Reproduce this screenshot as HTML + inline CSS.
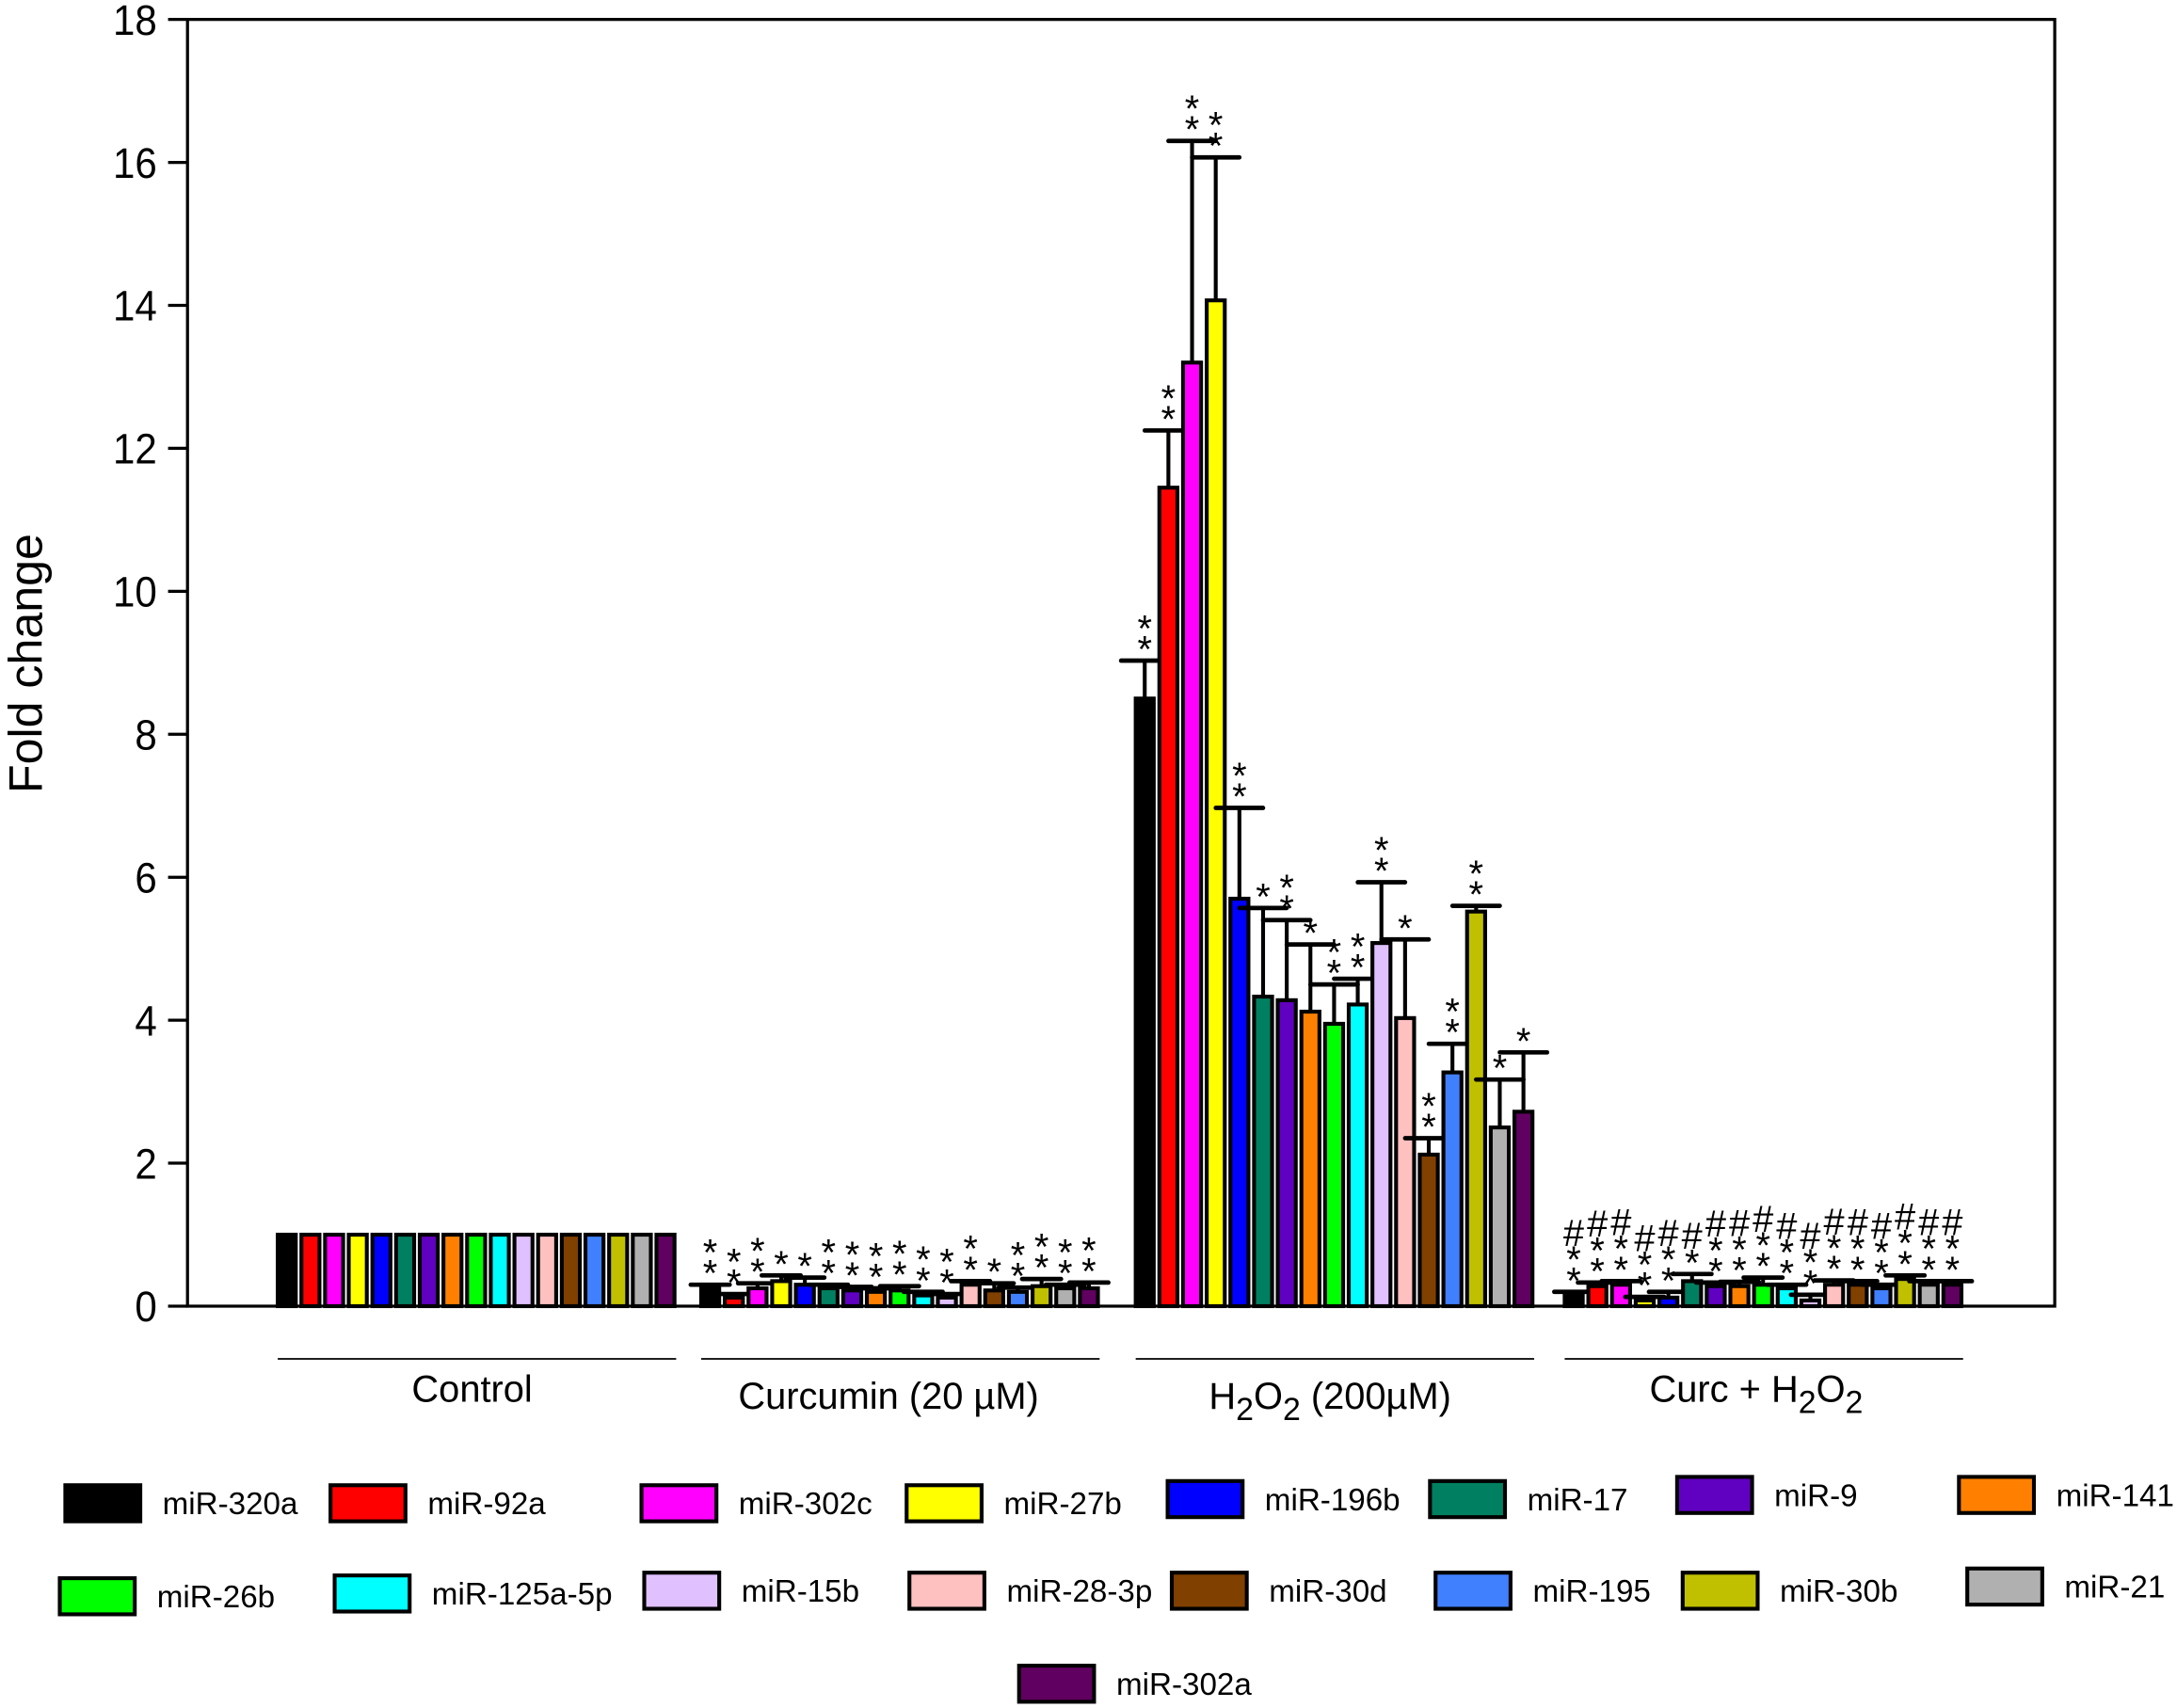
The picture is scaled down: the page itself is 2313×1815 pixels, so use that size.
<!DOCTYPE html>
<html><head><meta charset="utf-8"><style>
html,body{margin:0;padding:0;background:#fff;}
svg{display:block;font-family:"Liberation Sans",Arial,sans-serif;}
</style></head><body>
<svg id="chart" width="2313" height="1815" viewBox="0 0 1568 1230.5" xmlns="http://www.w3.org/2000/svg">
<g id="plot"></g>
</svg>
<script>
const mirnas = ["miR-320a","miR-92a","miR-302c","miR-27b","miR-196b","miR-17","miR-9","miR-141","miR-26b","miR-125a-5p","miR-15b","miR-28-3p","miR-30d","miR-195","miR-30b","miR-21","miR-302a"];
const colors = ["#000000","#ff0000","#ff00ff","#ffff00","#0000ff","#008060","#6000c0","#ff8000","#00ff00","#00ffff","#e0c0ff","#ffc0c0","#804000","#4080ff","#c0c000","#b0b0b0","#600060"];
const groups = ["Control","Curcumin (20 µM)","H2O2 (200µM)","Curc + H2O2"];
const controlVals = [1,1,1,1,1,1,1,1,1,1,1,1,1,1,1,1,1];
const controlErr = [0,0,0,0,0,0,0,0,0,0,0,0,0,0,0,0,0];
const curcVals = [0.25,0.12,0.25,0.35,0.3,0.25,0.22,0.2,0.22,0.15,0.12,0.3,0.22,0.2,0.28,0.25,0.25];
const curcErr = [0.05,0.05,0.07,0.08,0.1,0.05,0.05,0.05,0.06,0.05,0.05,0.05,0.1,0.06,0.1,0.05,0.08];
const h2o2Vals = [8.5,11.45,13.2,14.07,5.7,4.33,4.28,4.12,3.95,4.22,5.08,4.03,2.12,3.27,5.52,2.5,2.72];
const h2o2Err = [0.53,0.8,3.1,2.0,1.27,1.24,1.12,0.94,0.55,0.36,0.85,1.1,0.23,0.4,0.08,0.67,0.83];
const combVals = [0.15,0.28,0.3,0.08,0.12,0.35,0.28,0.28,0.3,0.25,0.08,0.3,0.3,0.25,0.38,0.3,0.3];
const combErr = [0.05,0.05,0.05,0.05,0.08,0.1,0.05,0.06,0.1,0.05,0.08,0.06,0.05,0.05,0.05,0.05,0.05];
const curcStars = ["**","**","**","*","*","**","**","**","**","**","**","**","*","**","**","**","**"];
const h2o2Stars = ["**","**","**","**","**","*","**","*","**","**","**","*","**","**","**","*","*"];
const combStars = ["**","**","**","**","**","*","**","**","**","**","**","**","**","**","**","**","**"];
const yTicks = [0,2,4,6,8,10,12,14,16,18];

const NS="http://www.w3.org/2000/svg";
const g=document.getElementById('plot');
const X0=135,X1=1480,Y0=941,YT=14,YMAX=18;
function y(v){return Y0-(Y0-YT)*v/YMAX;}
const groupStart=[200,505,818,1127], groupW=287, pitch=17.05, barW=13;
function bx(gi,i){return groupStart[gi]+i*pitch;}
function el(tag,attrs,parent){const e=document.createElementNS(NS,tag);for(const k in attrs)e.setAttribute(k,attrs[k]);(parent||g).appendChild(e);return e;}

let fr=el('rect',{x:X0,y:YT,width:X1-X0,height:Y0-YT,fill:'none',stroke:'#000','stroke-width':2.2});


yTicks.forEach(t=>{
  let l=el('line',{x1:X0-14,x2:X0,y1:y(t),y2:y(t),stroke:'#000','stroke-width':2.2});
  
  
  let tx=el('text',{x:X0-22,y:y(t)+11,'font-size':31,'text-anchor':'end',transform:'translate('+(X0-22)+',0) scale(0.92,1) translate('+(-(X0-22))+',0)'});
  tx.textContent=t;
  
  
});
let yt=el('text',{x:0,y:0,'font-size':34,'text-anchor':'middle',transform:'translate(30,478) rotate(-90)'});
yt.textContent='Fold change';



const allVals=[controlVals,curcVals,h2o2Vals,combVals];
const allErr=[controlErr,curcErr,h2o2Err,combErr];
const allStars=[null,curcStars,h2o2Stars,combStars];
allVals.forEach((vals,gi)=>{
  vals.forEach((v,i)=>{
    const x=bx(gi,i);
    let r=el('rect',{x:x,y:y(v),width:barW,height:Y0-y(v),fill:colors[i],stroke:'#000','stroke-width':2.8});
    
    
    const e=allErr[gi][i];
    if(e>0){
      const cx=x+barW/2, top=y(v+e), cap=gi==2?17:14;
      let l1=el('line',{x1:cx,x2:cx,y1:y(v),y2:top,stroke:'#000','stroke-width':2.8});
      
      
      let l2=el('line',{x1:cx-cap,x2:cx+cap,y1:top,y2:top,stroke:'#000','stroke-width':3.2,'stroke-linecap':'round'});
      
      
      const st=allStars[gi][i];
      const n=st.length;
      for(let k=0;k<n;k++){
        let s=el('text',{x:cx,y:top+1-k*15,'font-size':27,'text-anchor':'middle'});
        s.textContent='*';
        
        
      }
      if(gi==3){
        let h=el('text',{x:cx,y:top-13-n*15+10,'font-size':27,'text-anchor':'middle'});
        h.textContent='#';
        
        
      }
    }
  });
  let ul=el('line',{x1:groupStart[gi],x2:groupStart[gi]+groupW,y1:979,y2:979,stroke:'#000','stroke-width':1.2});
  
  
});
function glabel(cx,yy,html,name){
  let t=el('text',{x:cx,y:yy,'font-size':27,'text-anchor':'middle'});
  t.innerHTML=html;
  
  
}
glabel(340,1010,'Control','group-label-control');
glabel(640,1015,'Curcumin (20 µM)','group-label-curcumin');
glabel(958,1015,'H<tspan dy="8" font-size="23">2</tspan><tspan dy="-8">O</tspan><tspan dy="8" font-size="23">2</tspan><tspan dy="-8"> (200µM)</tspan>','group-label-h2o2');
glabel(1265,1010,'Curc + H<tspan dy="8" font-size="23">2</tspan><tspan dy="-8">O</tspan><tspan dy="8" font-size="23">2</tspan>','group-label-curc-h2o2');

const legX=[47,238,462,653,841,1030,1208,1411,43,241,464,655,844,1034,1212,1417,734];
const legY=[1070,1070,1070,1070,1067,1067,1064,1064,1137,1135,1133,1133,1133,1133,1133,1130,1200];
mirnas.forEach((m,i)=>{
  let r=el('rect',{x:legX[i],y:legY[i],width:54,height:26,fill:colors[i],stroke:'#000','stroke-width':2.8});
  
  
  let t=el('text',{x:legX[i]+70,y:legY[i]+21,'font-size':22.5});
  t.textContent=m;
  
  
});
</script>
</body></html>
